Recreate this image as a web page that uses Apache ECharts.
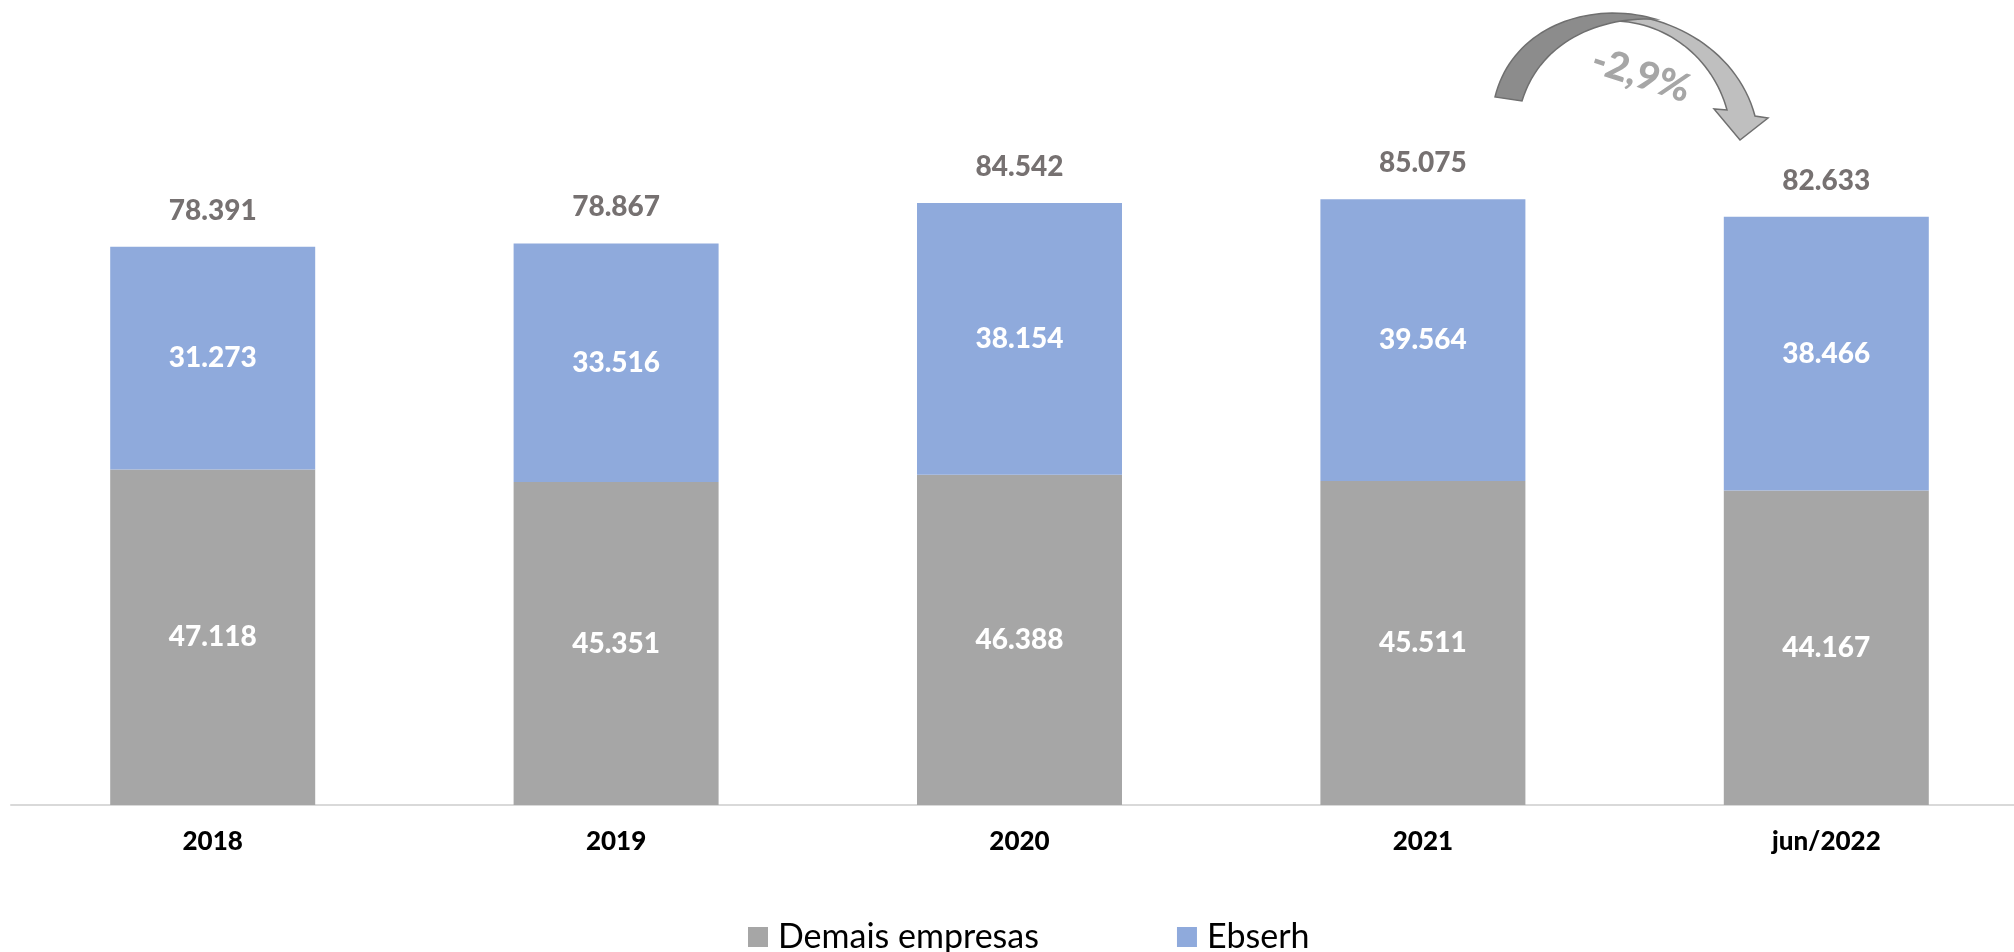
<!DOCTYPE html>
<html>
<head>
<meta charset="utf-8">
<style>
  html, body { margin: 0; padding: 0; background: #ffffff; }
  #chart { width: 2014px; height: 952px; }
</style>
<script src="https://cdn.jsdelivr.net/npm/echarts@6/dist/echarts.min.js"></script>
</head>
<body>
<div id="chart"></div>
<script>
// Período e séries (empregados)
const categories = ['2018', '2019', '2020', '2021', 'jun/2022'];
const demaisEmpresas = [47118, 45351, 46388, 45511, 44167];
const ebserh = [31273, 33516, 38154, 39564, 38466];
const seriesNames = ['Demais empresas', 'Ebserh'];

const totals = categories.map((_, i) => demaisEmpresas[i] + ebserh[i]);

const FONT = 'Lato, "Open Sans", sans-serif';
const HEAVY = 900;

function fmt(v) {
  return String(v).replace(/\B(?=(\d{3})+(?!\d))/g, '.');
}

// variação entre os dois últimos períodos
const n = totals.length;
const change = (totals[n - 1] - totals[n - 2]) / totals[n - 2] * 100;
const changeText = (change >= 0 ? '+' : '-') + Math.abs(change).toFixed(1).replace('.', ',') + '%';

// contorno da seta curva: segmentos de Bézier cúbica amostrados em pontos
function cubic(p0, p1, p2, p3, steps) {
  const pts = [];
  for (let i = 0; i <= steps; i++) {
    const t = i / steps, u = 1 - t;
    pts.push([
      u * u * u * p0[0] + 3 * u * u * t * p1[0] + 3 * u * t * t * p2[0] + t * t * t * p3[0],
      u * u * u * p0[1] + 3 * u * u * t * p1[1] + 3 * u * t * t * p2[1] + t * t * t * p3[1]
    ]);
  }
  return pts;
}

const lightBand = [].concat(
  cubic([1605, 14], [1672, 12], [1738, 52], [1755, 116], 30),
  [[1768, 118], [1740, 140], [1714, 109], [1727, 110]],
  cubic([1727, 110], [1714, 62], [1672, 24], [1618, 21], 30)
);
const darkBand = [].concat(
  cubic([1495, 97], [1508, 44], [1556, 14], [1612, 13], 30),
  cubic([1612, 13], [1630, 13], [1645, 16], [1655, 19], 8),
  cubic([1655, 19], [1598, 17], [1540, 42], [1522, 101], 30)
);

const chart = echarts.init(document.getElementById('chart'), null, { renderer: 'canvas' });

const innerLabel = {
  show: true,
  position: 'inside',
  color: '#ffffff',
  fontFamily: FONT,
  fontWeight: HEAVY,
  fontSize: 28,
  formatter: p => fmt(p.value)
};

chart.setOption({
  backgroundColor: '#ffffff',
  animation: false,
  grid: {
    left: 11,
    right: -14,
    top: 93,
    bottom: 147,
    containLabel: false,
    outerBoundsMode: 'none'
  },
  legend: {
    data: seriesNames,
    left: 743,
    top: 915,
    icon: 'rect',
    itemWidth: 20,
    itemHeight: 20,
    itemGap: 138,
    textStyle: { fontFamily: FONT, fontSize: 34, color: '#000000', padding: [0, 0, 0, 5] }
  },
  xAxis: {
    type: 'category',
    data: categories,
    axisLine: { show: true, lineStyle: { color: '#d9d9d9', width: 2 } },
    axisTick: { show: false },
    axisLabel: {
      margin: 24,
      color: '#000000',
      fontFamily: FONT,
      fontWeight: HEAVY,
      fontSize: 26
    }
  },
  yAxis: {
    type: 'value',
    min: 0,
    max: 100000,
    show: false,
    splitLine: { show: false }
  },
  series: [
    {
      name: 'Total',
      type: 'bar',
      data: totals,
      barWidth: 205,
      barGap: '-100%',
      z: 1,
      silent: true,
      itemStyle: { color: 'rgba(0,0,0,0)' },
      label: {
        show: true,
        position: 'top',
        distance: 22,
        color: '#767171',
        fontFamily: FONT,
        fontWeight: HEAVY,
        fontSize: 28,
        formatter: p => fmt(p.value)
      }
    },
    {
      name: seriesNames[0],
      type: 'bar',
      stack: 'empregados',
      data: demaisEmpresas,
      barWidth: 205,
      z: 2,
      itemStyle: { color: '#a6a6a6' },
      label: innerLabel
    },
    {
      name: seriesNames[1],
      type: 'bar',
      stack: 'empregados',
      data: ebserh,
      barWidth: 205,
      z: 2,
      itemStyle: { color: '#8faadc' },
      label: innerLabel
    }
  ],
  graphic: [
    {
      type: 'polygon',
      z: 10,
      shape: { points: lightBand },
      style: { fill: '#bfbfbf', stroke: '#6f6f6f', lineWidth: 1.5 }
    },
    {
      type: 'polygon',
      z: 11,
      shape: { points: darkBand },
      style: { fill: '#8c8c8c', stroke: '#6f6f6f', lineWidth: 1.5 }
    },
    {
      type: 'text',
      z: 12,
      x: 1641,
      y: 75,
      rotation: -18 * Math.PI / 180,
      style: {
        text: changeText,
        fill: '#a6a6a6',
        font: HEAVY + ' 39px ' + FONT,
        align: 'center',
        verticalAlign: 'middle'
      }
    }
  ]
});
</script>
</body>
</html>
